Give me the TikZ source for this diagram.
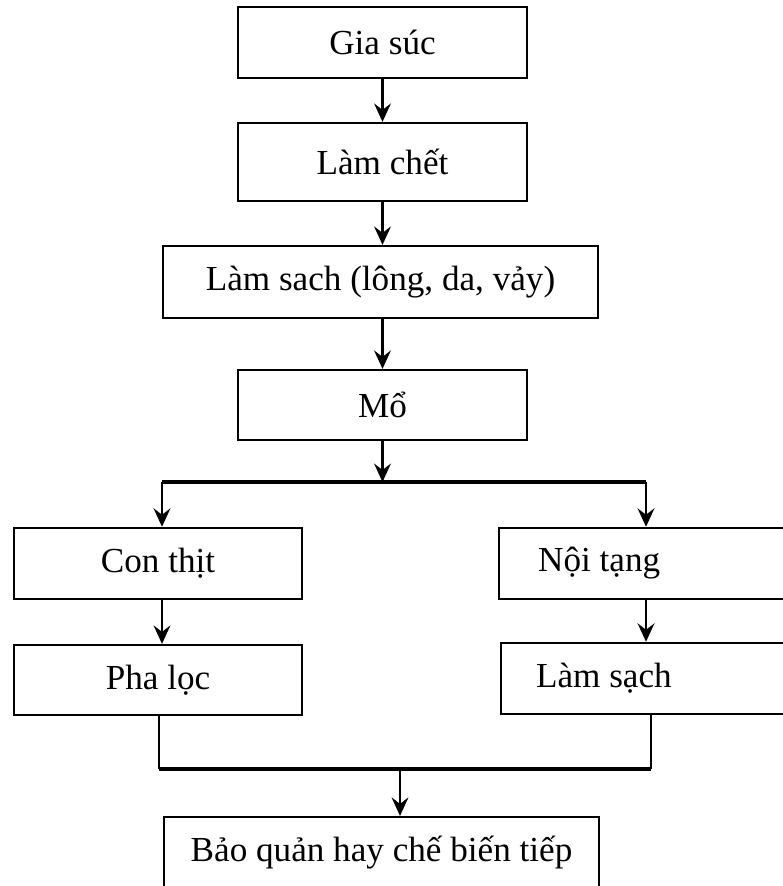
\documentclass[tikz,border=0pt]{standalone}
\usepackage{fontspec}
\setmainfont{Liberation Serif}
\usetikzlibrary{arrows.meta}

\begin{document}
\begin{tikzpicture}[scale=1,
  >={Stealth[length=0.46cm,width=0.42cm,inset=0.16cm]},
  texte/.style={font=\fontsize{25}{30}\selectfont},
  boite/.style={draw,line width=1.6pt,texte,minimum height=1.78cm},
  fleche/.style={->,line width=1.7pt},
  trait/.style={line width=2.6pt}]

  \useasboundingbox (0,0) rectangle (19.55,-22.15);

% Etapes du haut
\node[boite,minimum width=7.225cm] (gia) at (9.5625,-1.0625) {Gia súc};
\node[boite,minimum width=7.225cm,minimum height=1.95cm] (lamchet) at (9.5625,-4.05) {Làm chết};
\node[boite,minimum width=10.875cm,minimum height=1.8cm] (lamsach) at (9.5125,-7.05) {Làm sach (lông, da, vảy)};
\node[boite,minimum width=7.225cm,minimum height=1.75cm] (mo) at (9.5625,-10.125) {Mổ};

\draw[fleche] (gia.south) -- (lamchet.north);
\draw[fleche] (lamchet.south) -- (lamchet.south |- lamsach.north);
\draw[fleche] (mo.north |- lamsach.south) -- (mo.north);

% Deux branches
\coordinate (gauche) at (4.05,-12.05);
\coordinate (droite) at (16.15,-12.05);

\node[boite,minimum width=7.2cm] (conthit) at (3.95,-14.0875) {Con thịt};
\node[boite,minimum width=7.2cm,minimum height=1.75cm] (phaloc) at (3.95,-17.0) {Pha lọc};
\node[boite,anchor=west,minimum width=8cm,
  label={[texte,xshift=-1.5cm]center:Nội tạng}] (noitang) at (12.45,-14.0875) {};
\node[boite,anchor=west,minimum width=8cm,
  label={[texte,xshift=-1.43cm]center:Làm sạch}] (sachnt) at (12.5,-16.9625) {};

\draw[trait] (gauche) -- (droite);
\draw[fleche] (mo.south) -- (mo.south |- gauche);
\draw[fleche] (gauche) -- (gauche |- conthit.north);
\draw[fleche] (droite) -- (droite |- noitang.north);
\draw[fleche] (conthit.south -| gauche) -- (phaloc.north -| gauche);
\draw[fleche] (noitang.south -| droite) -- (sachnt.north -| droite);

% Regroupement
\coordinate (bas) at (10,-19.225);
\coordinate (basg) at (3.98,-19.225);
\coordinate (basd) at (16.275,-19.225);

\node[boite,minimum width=10.875cm,minimum height=1.8cm] (bao) at (9.5375,-21.325) {Bảo quản hay chế biến tiếp};

\draw[line width=1.7pt] (phaloc.south -| basg) -- (basg);
\draw[line width=1.7pt] (sachnt.south -| basd) -- (basd);
\draw[trait] (basg) -- (basd);
\draw[fleche] (bas) -- (bas |- bao.north);

\end{tikzpicture}
\end{document}
